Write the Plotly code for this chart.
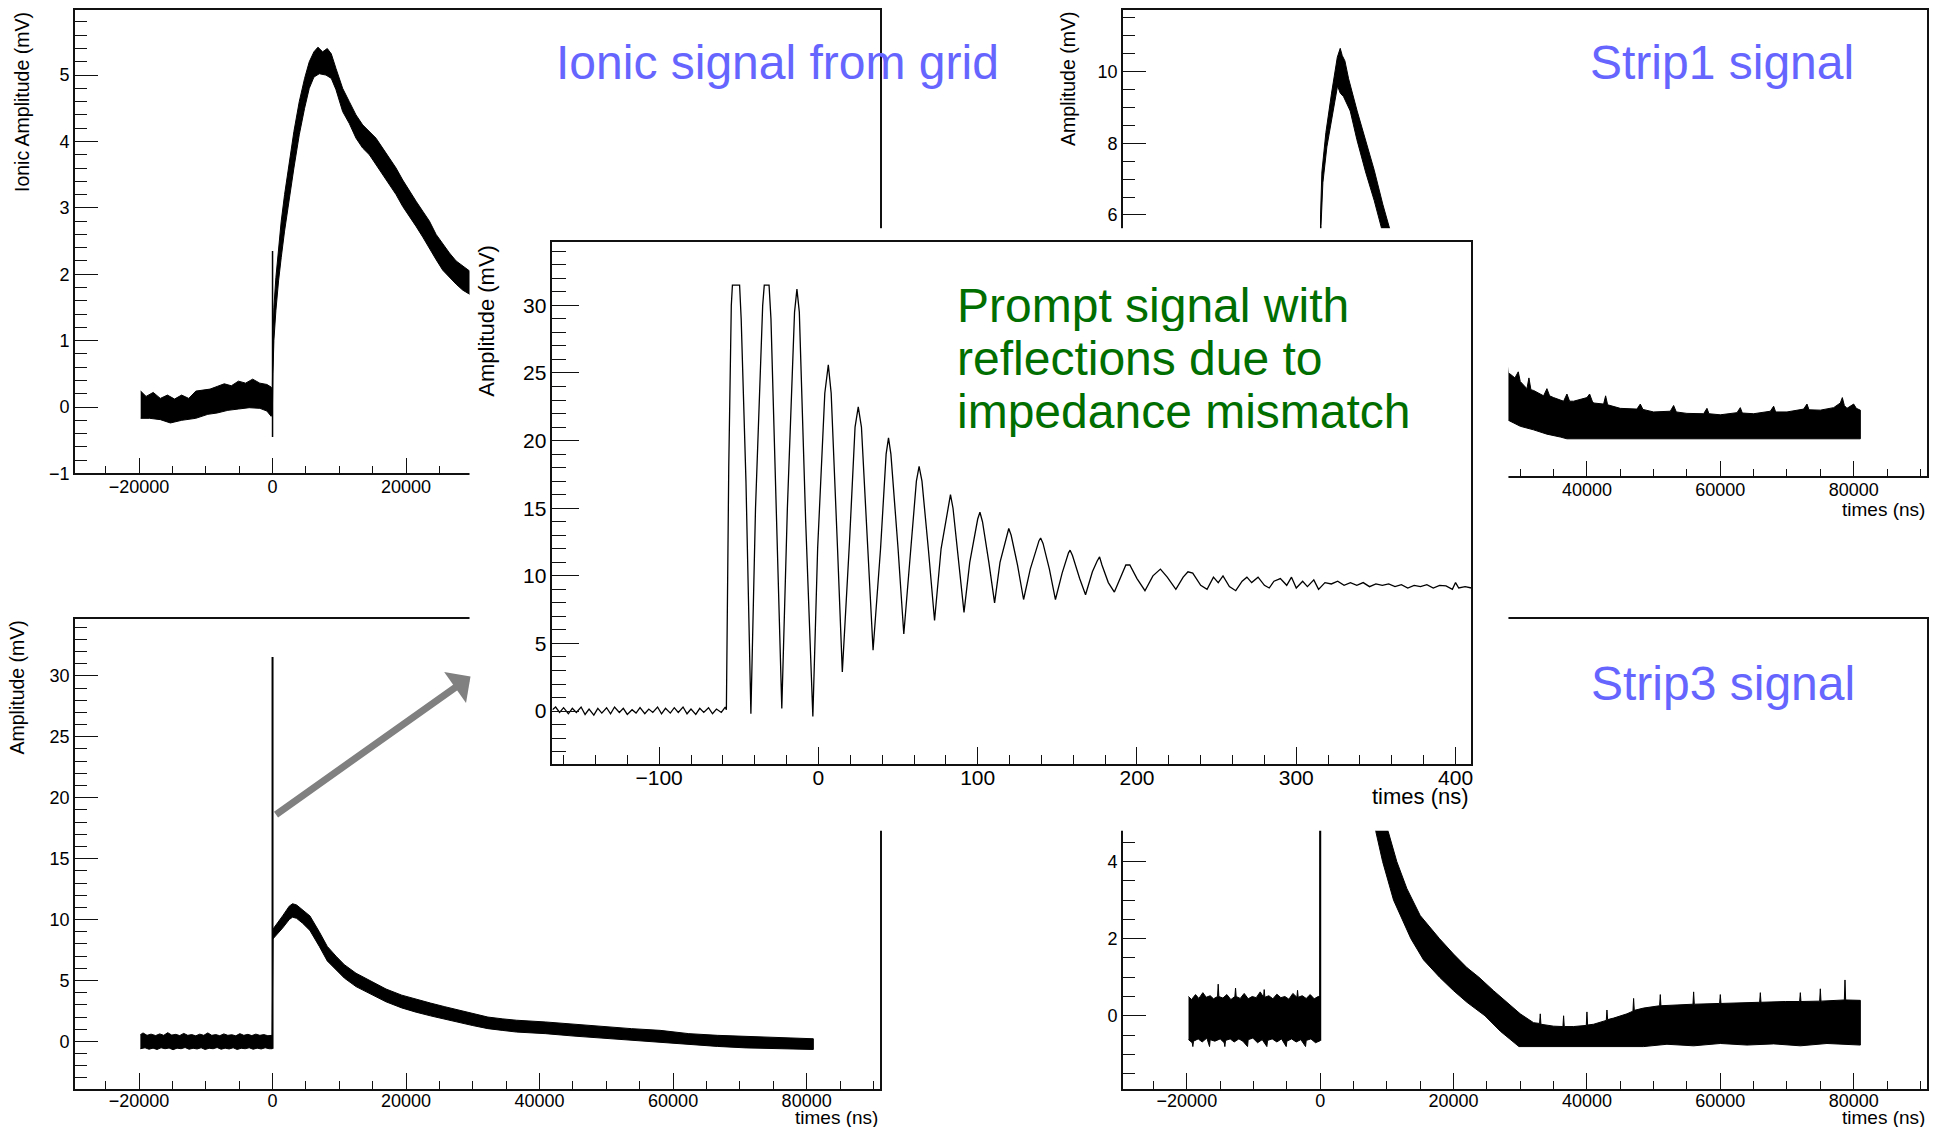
import plotly.graph_objects as go

W, H = 1943, 1127          # target picture size (layout coordinates are measured in it)
FIG_H = 1138               # figure height; the page photo is squeezed to 1127 rows
FONT = "Liberation Sans, Arial, Helvetica, sans-serif"

# ---------------- data (time in ns, amplitude in mV) ----------------
# Ionic signal from grid (top-left): noise band envelope
ionic_upper = [(-19750, 0.24), (-18940, 0.16), (-17870, 0.22), (-16810, 0.13), (-15740, 0.18),
               (-14680, 0.12), (-13620, 0.18), (-12550, 0.13), (-11490, 0.24), (-10430, 0.26),
               (-9360, 0.27), (-8300, 0.31), (-7230, 0.35), (-6170, 0.32), (-5110, 0.39),
               (-4040, 0.36), (-2980, 0.42), (-1910, 0.36), (-850, 0.34), (-210, 0.30), (-30, 0.26),
               (60, 1.0), (200, 1.5), (500, 1.95), (900, 2.4), (1300, 2.8), (1800, 3.2), (2500, 3.7),
               (3200, 4.15), (4000, 4.6), (4800, 4.95), (5500, 5.2), (6200, 5.35), (6800, 5.42),
               (7500, 5.35), (8200, 5.4), (8800, 5.32), (9500, 5.1), (10500, 4.8), (11500, 4.6),
               (12500, 4.4), (13500, 4.25), (14500, 4.15), (15500, 4.05), (16500, 3.9), (17500, 3.75),
               (18500, 3.6), (19500, 3.42), (20500, 3.25), (21500, 3.1), (22500, 2.95), (23500, 2.8),
               (24500, 2.6), (25500, 2.45), (26500, 2.32), (27500, 2.2), (28500, 2.12), (29500, 2.05),
               (31000, 1.9)]
ionic_lower = [(-19750, -0.17), (-18400, -0.17), (-16800, -0.19), (-15300, -0.24), (-13600, -0.20),
               (-11500, -0.17), (-9700, -0.11), (-8300, -0.09), (-6700, -0.05), (-5100, -0.03),
               (-3500, -0.01), (-1900, -0.02), (-850, -0.06), (-210, -0.14), (-30, -0.12),
               (60, 0.5), (200, 1.0), (500, 1.45), (900, 1.9), (1300, 2.25), (1800, 2.65), (2500, 3.15),
               (3200, 3.6), (4000, 4.1), (4800, 4.5), (5500, 4.8), (6200, 4.97), (7000, 5.02),
               (8000, 5.0), (8800, 4.95), (9500, 4.78), (10500, 4.45), (11500, 4.27), (12500, 4.05),
               (13500, 3.9), (14500, 3.8), (15500, 3.65), (16500, 3.5), (17500, 3.35), (18500, 3.2),
               (19500, 3.02), (20500, 2.87), (21500, 2.72), (22500, 2.56), (23500, 2.4), (24500, 2.22),
               (25500, 2.06), (26500, 1.96), (27500, 1.85), (28500, 1.76), (29500, 1.7), (31000, 1.55)]
ionic_spike = [(0, -0.45), (0, 2.35)]

# Strip1 signal (top-right): visible peak part and tail
strip1_peak_upper = [(0, 4.0), (50, 6.0), (250, 7.2), (850, 8.3), (1700, 9.4), (2560, 10.4),
                     (3000, 10.65), (3300, 10.45), (3700, 10.3), (4260, 9.8), (5540, 8.9),
                     (6820, 8.05), (8100, 7.25), (9380, 6.3), (10240, 5.7), (11500, 4.9), (13000, 4.0)]
strip1_peak_lower = [(0, 3.6), (120, 5.7), (400, 6.9), (1000, 7.9), (1900, 8.9), (2600, 9.6),
                     (3000, 9.4), (3500, 9.3), (4500, 8.9), (5500, 8.1), (6800, 7.2), (8100, 6.4),
                     (9380, 5.5), (10240, 4.95), (11500, 4.2), (13000, 3.3)]
strip1_tail_upper = [(27000, 1.8), (27800, 1.62), (28000, 1.9), (28200, 1.6), (28400, 1.57),
                     (29200, 1.45), (29700, 1.62), (30000, 1.35), (31000, 1.15), (31300, 1.45),
                     (31600, 1.12), (32000, 1.1), (33500, 0.95), (34000, 1.15), (34400, 0.95),
                     (35000, 0.9), (36500, 0.8), (37000, 1.0), (37400, 0.8), (38000, 0.8),
                     (40000, 0.9), (40400, 1.0), (40800, 0.8), (41000, 0.75), (42500, 0.72),
                     (42800, 0.95), (43100, 0.7), (45000, 0.6), (47500, 0.58), (48000, 0.72),
                     (48400, 0.57), (50000, 0.5), (52500, 0.52), (53000, 0.68), (53400, 0.5),
                     (55000, 0.46), (57500, 0.45), (58000, 0.6), (58300, 0.45), (60000, 0.42),
                     (62500, 0.48), (63000, 0.62), (63300, 0.47), (65000, 0.45), (67500, 0.52),
                     (68000, 0.66), (68300, 0.5), (70000, 0.5), (72500, 0.58), (73000, 0.72),
                     (73300, 0.56), (75000, 0.55), (77000, 0.62), (78000, 0.75), (78300, 0.9),
                     (78600, 0.68), (79000, 0.6), (80000, 0.72), (80400, 0.6), (81000, 0.55)]
strip1_tail_lower = [(27000, 0.35), (28400, 0.25), (30000, 0.1), (32000, 0.0), (34000, -0.12),
                     (36000, -0.2), (37000, -0.25), (81000, -0.25)]

# Prompt signal, full time window (bottom-left)
bl_upper = [(-19800, 0.55), (-19400, 0.7), (-18800, 0.5), (-18200, 0.6), (-17500, 0.48),
            (-16900, 0.62), (-16300, 0.5), (-15700, 0.72), (-15100, 0.52), (-14500, 0.58),
            (-13900, 0.48), (-13300, 0.66), (-12700, 0.5), (-12100, 0.56), (-11500, 0.46),
            (-10900, 0.6), (-10300, 0.5), (-9700, 0.7), (-9100, 0.5), (-8500, 0.56), (-7900, 0.47),
            (-7300, 0.62), (-6700, 0.5), (-6100, 0.55), (-5500, 0.46), (-4900, 0.64), (-4300, 0.5),
            (-3700, 0.58), (-3100, 0.48), (-2500, 0.6), (-1900, 0.5), (-1300, 0.56), (-700, 0.47),
            (-40, 0.5),
            (40, 9.2), (600, 9.6), (1500, 10.3), (2500, 11.1), (3000, 11.3), (3600, 11.2),
            (4500, 10.8), (5600, 10.3), (7000, 9.0), (8200, 7.8), (9500, 7.0), (10750, 6.3),
            (12500, 5.6), (15000, 4.9), (17000, 4.3), (19350, 3.8), (21500, 3.45), (23650, 3.15),
            (25800, 2.85), (27950, 2.55), (30000, 2.3), (32250, 2.0), (34500, 1.85), (36550, 1.74),
            (40850, 1.6), (45150, 1.41), (49450, 1.19), (53750, 1.05), (58050, 0.91), (62350, 0.64),
            (66650, 0.5), (70950, 0.41), (75250, 0.3), (81000, 0.22)]
bl_lower = [(-19800, -0.6), (-19100, -0.52), (-18500, -0.64), (-17900, -0.55), (-17300, -0.66),
            (-16700, -0.52), (-16100, -0.6), (-15500, -0.54), (-14900, -0.68), (-14300, -0.55),
            (-13700, -0.6), (-13100, -0.5), (-12500, -0.64), (-11900, -0.56), (-11300, -0.62),
            (-10700, -0.52), (-10100, -0.66), (-9500, -0.56), (-8900, -0.6), (-8300, -0.5),
            (-7700, -0.64), (-7100, -0.55), (-6500, -0.62), (-5900, -0.52), (-5300, -0.66),
            (-4700, -0.56), (-4100, -0.6), (-3500, -0.52), (-2900, -0.64), (-2300, -0.55),
            (-1700, -0.62), (-1100, -0.52), (-500, -0.6), (-40, -0.6),
            (40, 8.4), (600, 8.7), (1500, 9.3), (2500, 10.0), (3000, 10.2), (3600, 10.1),
            (4500, 9.7), (5600, 9.1), (7000, 7.8), (8200, 6.6), (9500, 5.9), (10750, 5.2),
            (12500, 4.5), (15000, 3.8), (17000, 3.25), (19350, 2.75), (21500, 2.4), (23650, 2.1),
            (25800, 1.8), (27950, 1.55), (30000, 1.3), (32250, 1.05), (34500, 0.9), (36550, 0.77),
            (40850, 0.64), (45150, 0.44), (49450, 0.22), (53750, 0.08), (58050, -0.06),
            (62350, -0.25), (66650, -0.41), (70950, -0.53), (75250, -0.61), (81000, -0.66)]
bl_spike = [(0, -0.6), (0, 31.55)]

# Strip3 signal (bottom-right)
strip3_upper = [(-19750, 0.5), (-19300, 0.42), (-18700, 0.55), (-18200, 0.45), (-17600, 0.6),
                (-17100, 0.48), (-16500, 0.52), (-16000, 0.44), (-15400, 0.5), (-15300, 0.82),
                (-15200, 0.5), (-14600, 0.46), (-14000, 0.55), (-13400, 0.42), (-12800, 0.5),
                (-12700, 0.72), (-12600, 0.5), (-12000, 0.45), (-11400, 0.58), (-10800, 0.44),
                (-10200, 0.5), (-9600, 0.47), (-9000, 0.62), (-8500, 0.48), (-8400, 0.68),
                (-8300, 0.48), (-7700, 0.52), (-7100, 0.44), (-6500, 0.56), (-5900, 0.47),
                (-5300, 0.5), (-4700, 0.43), (-4100, 0.58), (-3500, 0.48), (-3400, 0.66),
                (-3300, 0.48), (-2700, 0.52), (-2100, 0.45), (-1500, 0.55), (-900, 0.44),
                (-300, 0.5), (-30, 0.5),
                (40, 8.6), (1500, 9.0), (3000, 9.2), (5000, 8.4), (7000, 6.9), (8800, 5.6),
                (10200, 4.78), (11490, 4.0), (13000, 3.3), (15000, 2.6), (17900, 2.0), (20000, 1.6),
                (22000, 1.25), (23800, 1.0), (26000, 0.65), (28000, 0.35), (30000, 0.05),
                (32000, -0.18), (32900, -0.2), (33000, 0.05), (33100, -0.22), (35000, -0.27),
                (36400, -0.28), (36500, 0.0), (36600, -0.28), (38000, -0.28), (39900, -0.25),
                (40000, 0.1), (40100, -0.24), (41000, -0.22), (42900, -0.12), (43000, 0.15),
                (43100, -0.1), (44000, -0.06), (46000, 0.05), (46900, 0.12), (47000, 0.45),
                (47100, 0.14), (48500, 0.2), (50900, 0.26), (51000, 0.55), (51100, 0.26),
                (52800, 0.28), (55900, 0.3), (56000, 0.62), (56100, 0.3), (59900, 0.32),
                (60000, 0.55), (60100, 0.32), (61300, 0.33), (65500, 0.35), (65900, 0.35),
                (66000, 0.6), (66100, 0.35), (69800, 0.37), (71900, 0.37), (72000, 0.6),
                (72100, 0.37), (74900, 0.38), (75000, 0.7), (75100, 0.38), (78600, 0.41),
                (78700, 0.93), (78800, 0.41), (81000, 0.4)]
strip3_lower = [(-19750, -0.62), (-19200, -0.7), (-19100, -0.8), (-19000, -0.66), (-18300, -0.6),
                (-17700, -0.68), (-17000, -0.58), (-16600, -0.8), (-16500, -0.62), (-15800, -0.66),
                (-15000, -0.6), (-14400, -0.7), (-14300, -0.8), (-14200, -0.64), (-13500, -0.6),
                (-12900, -0.68), (-12200, -0.6), (-11600, -0.66), (-10900, -0.8), (-10800, -0.62),
                (-10100, -0.58), (-9400, -0.7), (-8700, -0.62), (-8000, -0.8), (-7900, -0.64),
                (-7200, -0.6), (-6500, -0.68), (-5800, -0.6), (-5100, -0.8), (-5000, -0.66),
                (-4300, -0.6), (-3600, -0.68), (-2900, -0.62), (-2200, -0.8), (-2100, -0.64),
                (-1400, -0.6), (-700, -0.7), (-30, -0.65),
                (40, 8.0), (1500, 8.5), (3000, 8.6), (5000, 7.6), (7000, 5.9), (8340, 4.78),
                (9360, 4.0), (11000, 3.0), (13600, 2.0), (15500, 1.45), (17900, 1.0), (20000, 0.65),
                (22000, 0.35), (24700, 0.0), (27000, -0.4), (29800, -0.8), (48500, -0.8),
                (52000, -0.74), (56000, -0.78), (60000, -0.72), (64000, -0.76), (68000, -0.73),
                (72000, -0.78), (76000, -0.72), (81000, -0.76)]
strip3_spike = [(0, -0.65), (0, 8.6)]

# Zoomed prompt signal (inset)
prompt_t = [-167, -165, -162.5, -160, -157, -154.5, -152, -149, -146.5, -144, -141, -138.5, -136,
            -133, -130.5, -128, -125, -122.5, -120, -117, -114.5, -112, -109, -106.5, -104, -101,
            -98.5, -96, -93, -90.5, -88, -85, -82.5, -80, -77, -74.5, -72, -69, -66.5, -64, -61,
            -58.5,
            -57.8, -56.3, -54.7, -54.0, -49.5, -48.5, -45.5, -42.4, -39.5, -35.0, -34.0, -31.0,
            -29.8, -26.5, -23.0, -19.5, -15.0, -13.5, -12.0, -8.0, -3.5, -0.5, 4.0, 6.2, 8.0,
            12.0, 15.0, 19.5, 23.0, 25.0, 27.0, 31.0, 34.3, 39.0, 42.5, 44.0, 45.5, 50.0, 53.6,
            58.0, 61.5, 63.2, 65.0, 69.0, 72.9, 77.0, 81.5, 82.9, 84.5, 88.0, 91.4, 95.0, 100.0,
            101.4, 103.0, 107.0, 110.6, 114.0, 118.5, 119.5, 121.0, 125.0, 128.8, 133.0, 138.5,
            139.5, 141.0, 145.0, 148.8, 153.0, 157.0, 158.0, 159.5, 164.0, 167.7, 172.0, 175.0,
            176.5, 178.0, 182.0, 185.8, 190.0, 193.0, 195.5, 200.0, 205.0, 210.0, 214.7, 219.0,
            224.4, 229.0, 232.0, 235.0, 240.0,
            244, 248, 251, 254, 258, 262, 266, 269, 272, 276, 280, 283, 286, 290, 294, 297, 300,
            304, 307, 311, 314, 318, 322, 326, 330, 334, 338, 342, 346, 350, 354, 358, 362, 366,
            370, 374, 378, 382, 386, 390, 394, 398, 400, 402, 406, 410]
prompt_v = [0.1, 0.3, -0.1, 0.25, -0.2, 0.2, -0.1, 0.3, -0.25, 0.15, -0.3, 0.2, -0.15,
            0.25, -0.2, 0.3, -0.1, 0.2, -0.25, 0.1, -0.15, 0.25, -0.2, 0.15, -0.1, 0.3,
            -0.2, 0.2, -0.15, 0.25, -0.1, 0.3, -0.2, 0.15, -0.25, 0.2, -0.1, 0.25, -0.2, 0.15, -0.1,
            0.3,
            0.1, 18.0, 30.0, 31.5, 31.5, 29.0, 17.0, -0.2, 15.0, 30.0, 31.5, 31.5,
            29.0, 15.0, 0.2, 15.0, 29.5, 31.2, 29.5, 14.0, -0.4, 12.0, 23.5, 25.6, 23.5,
            12.0, 2.9, 12.5, 21.0, 22.5, 21.0, 12.0, 4.5, 12.0, 19.0, 20.2, 19.0, 12.0, 5.7,
            12.0, 17.0, 18.1, 17.0, 12.0, 6.7, 12.0, 15.2, 16.0, 15.0, 11.0, 7.3, 11.0, 14.2,
            14.7, 14.0, 11.0, 8.0, 11.0, 13.2, 13.5, 13.0, 10.8, 8.25, 10.5, 12.6,
            12.8, 12.4, 10.5, 8.25, 10.2, 11.7, 11.9, 11.5, 9.8, 8.6, 10.3, 11.1,
            11.4, 10.8, 9.5, 8.8, 10.0, 10.8, 10.8, 9.8, 8.9, 10.0, 10.5, 9.9,
            9.0, 9.9, 10.3, 10.2, 9.3,
            9.0, 9.9, 9.5, 10.0, 9.2, 8.9, 9.6, 9.9, 9.5, 9.9, 9.3, 9.1, 9.6, 9.8, 9.3, 9.9, 9.1,
            9.6, 9.2, 9.7, 9.0, 9.5, 9.4, 9.6, 9.3, 9.5, 9.3, 9.5, 9.2, 9.4, 9.3, 9.4, 9.2, 9.35,
            9.1, 9.3, 9.2, 9.35, 9.1, 9.3, 9.25, 9.0, 9.5, 9.1, 9.2, 9.1]

# ---------------- layout geometry (pixels of the target picture) ----------------
PANELS = {
    "tl": (75, 881, 10, 473),
    "tr": (1124, 1929, 10, 476),
    "bl": (75, 881, 618, 1088),
    "br": (1124, 1929, 618, 1088),
    "cover": (470, 1510, 228, 830),
    "inset": (553, 1473, 242, 763),
}


def xdom(p):
    return [p[0] / W, p[1] / W]


def ydom(p):
    return [1 - p[3] / H, 1 - p[2] / H]


def band_trace(upper, lower, xa, ya):
    xs = [t for t, _ in upper] + [t for t, _ in lower[::-1]]
    ys = [v for _, v in upper] + [v for _, v in lower[::-1]]
    return go.Scatter(x=xs, y=ys, mode="lines", fill="toself", fillcolor="black",
                      line=dict(color="black", width=1), xaxis=xa, yaxis=ya,
                      hoverinfo="skip", showlegend=False)


def line_trace(pts, xa, ya, width=1.5):
    return go.Scatter(x=[t for t, _ in pts], y=[v for _, v in pts], mode="lines",
                      line=dict(color="black", width=width), xaxis=xa, yaxis=ya,
                      hoverinfo="skip", showlegend=False)


fig = go.Figure()
fig.add_trace(band_trace(ionic_upper, ionic_lower, "x", "y"))
fig.add_trace(line_trace(ionic_spike, "x", "y"))
fig.add_trace(band_trace(strip1_peak_upper, strip1_peak_lower, "x2", "y2"))
fig.add_trace(band_trace(strip1_tail_upper, strip1_tail_lower, "x2", "y2"))
fig.add_trace(band_trace(bl_upper, bl_lower, "x3", "y3"))
fig.add_trace(line_trace(bl_spike, "x3", "y3", 2))
fig.add_trace(band_trace(strip3_upper, strip3_lower, "x4", "y4"))
fig.add_trace(line_trace(strip3_spike, "x4", "y4", 2))
fig.add_trace(go.Scatter(x=[None], y=[None], mode="markers", xaxis="x5", yaxis="y5",
                         hoverinfo="skip", showlegend=False))
fig.add_trace(go.Scatter(x=prompt_t, y=prompt_v, mode="lines", line=dict(color="black", width=1.3),
                         xaxis="x6", yaxis="y6", hoverinfo="skip", showlegend=False))


def axis(dom, rng, dtick, mdtick, anchor, tlen, mlen, fs, standoff=0):
    return dict(domain=dom, range=rng, anchor=anchor, showline=True, linecolor="#111",
                linewidth=1.5, mirror=True, ticks="inside", ticklen=tlen, tickwidth=1.3,
                tickcolor="#111", tick0=0, dtick=dtick,
                minor=dict(ticks="inside", ticklen=mlen, tick0=0, dtick=mdtick,
                           tickcolor="#111", tickwidth=1.3, showgrid=False),
                showgrid=False, zeroline=False, exponentformat="none",
                separatethousands=False, fixedrange=True, ticklabelstandoff=standoff,
                tickfont=dict(family=FONT, size=fs, color="black"))


XR = [-29600, 91000]
p = PANELS
fig.update_layout(
    width=W, height=FIG_H, autosize=False, margin=dict(l=0, r=0, t=0, b=0),
    paper_bgcolor="white", plot_bgcolor="white", showlegend=False,
    separators=".",
    xaxis=axis(xdom(p["tl"]), XR, 20000, 5000, "y", 16, 8, 18, -4),
    yaxis=axis(ydom(p["tl"]), [-1.0, 5.98], 1, 0.2, "x", 23, 12, 18),
    xaxis2=axis(xdom(p["tr"]), XR, 20000, 5000, "y2", 16, 8, 18, -4),
    yaxis2=axis(ydom(p["tr"]), [-1.3, 11.72], 2, 0.5, "x2", 23, 12, 18),
    xaxis3=axis(xdom(p["bl"]), XR, 20000, 5000, "y3", 16, 8, 18, -5),
    yaxis3=axis(ydom(p["bl"]), [-3.9, 34.7], 5, 1, "x3", 23, 12, 18),
    xaxis4=axis(xdom(p["br"]), XR, 20000, 5000, "y4", 16, 8, 18, -5),
    yaxis4=axis(ydom(p["br"]), [-1.9, 10.31], 2, 0.5, "x4", 23, 12, 18),
    xaxis5=dict(domain=xdom(p["cover"]), range=[0, 1], anchor="y5", visible=False, fixedrange=True),
    yaxis5=dict(domain=ydom(p["cover"]), range=[0, 1], anchor="x5", visible=False, fixedrange=True),
    xaxis6=axis(xdom(p["inset"]), [-167, 410], 100, 20, "y6", 17, 9, 21, -6),
    yaxis6=axis(ydom(p["inset"]), [-3.89, 34.67], 5, 1, "x6", 27, 14, 21),
)


def ann(text, x, y, size, color="black", xanchor="center", yanchor="middle", angle=0, **kw):
    d = dict(text=text, x=x / W, y=1 - y / H, xref="paper", yref="paper", showarrow=False,
             font=dict(family=FONT, size=size, color=color), xanchor=xanchor,
             yanchor=yanchor, textangle=angle)
    d.update(kw)
    return d


BLUE = "rgb(102,102,255)"
GREEN = "rgb(0,110,0)"
annotations = [
    ann("Ionic signal from grid", 778, 62, 48, BLUE),
    ann("Strip1 signal", 1724, 62, 48, BLUE),
    ann("Strip3 signal", 1725, 683, 48, BLUE),
    ann("Prompt signal with", 957, 305, 48, GREEN, xanchor="left", height=52, borderpad=0),
    ann("reflections due to", 957, 358, 48, GREEN, xanchor="left", height=52, borderpad=0),
    ann("impedance mismatch", 957, 411, 48, GREEN, xanchor="left", height=52, borderpad=0),
    ann("Ionic Amplitude (mV)", 22, 10, 19.5, yanchor="top", angle=-90),
    ann("Amplitude (mV)", 1069, 10, 19.5, yanchor="top", angle=-90),
    ann("Amplitude (mV)", 17, 618, 19.5, yanchor="top", angle=-90),
    ann("Amplitude (mV)", 487, 242, 22, yanchor="top", angle=-90),
    ann("times (ns)", 1929, 509, 19, xanchor="right"),
    ann("times (ns)", 881, 1117, 19, xanchor="right"),
    ann("times (ns)", 1929, 1117, 19, xanchor="right"),
    ann("times (ns)", 1473, 796, 22, xanchor="right"),
    dict(x=471 / W, y=1 - 676 / H, xref="paper", yref="paper", ax=-196, ay=139,
         axref="pixel", ayref="pixel", text="", showarrow=True, arrowhead=1,
         arrowsize=0.9, arrowwidth=7, arrowcolor="#808080", standoff=0),
]
fig.update_layout(annotations=annotations)

fig.write_html("out.html")
